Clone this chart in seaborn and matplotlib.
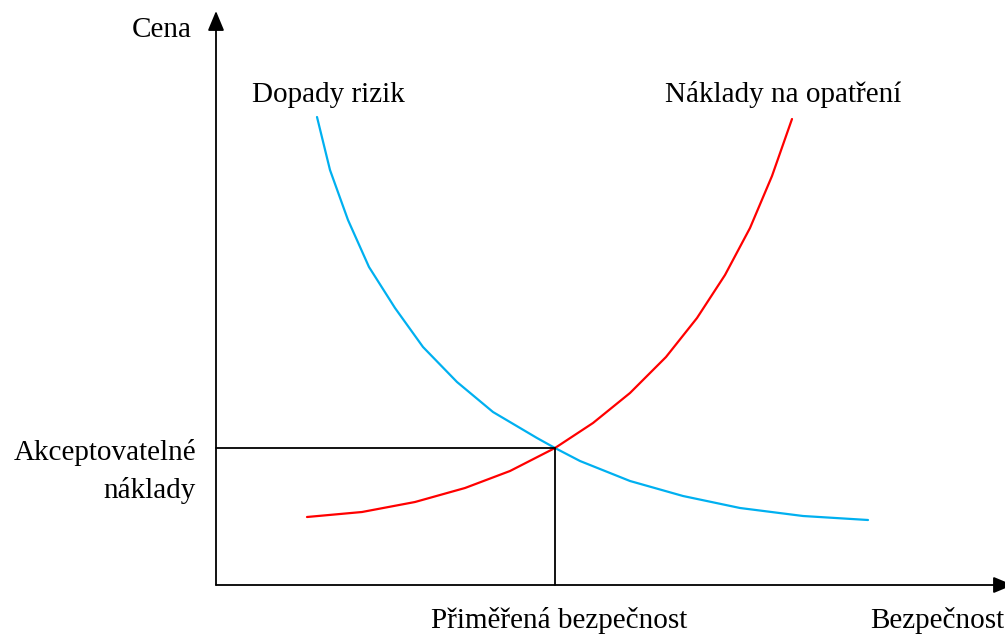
import matplotlib
matplotlib.use("Agg")
import matplotlib.pyplot as plt
import seaborn as sns
import pandas as pd

# Dopady rizik (modrá křivka)
risk_x = [101, 114, 132, 153, 179, 207, 241, 277, 321, 339, 364, 414, 467, 524, 587, 652]
risk_y = [468, 415, 365, 318, 277, 238, 203, 173, 147, 137, 124, 104, 89, 77, 69, 65]

# Náklady na opatření (červená křivka)
cost_x = [91, 146, 199, 249, 294, 339, 377, 414, 450, 481, 509, 534, 556, 576]
cost_y = [68, 73, 83, 97, 114, 137, 162, 192, 228, 267, 310, 357, 409, 466]

# Akceptovatelné náklady / přiměřená bezpečnost
opt_x = 339
opt_y = 137

sns.set_style("white")
plt.rcParams['font.family'] = ['Liberation Serif', 'DejaVu Serif']
plt.rcParams['text.color'] = 'black'

fig = plt.figure(figsize=(10.05, 6.36), dpi=100)
ax = fig.add_axes([0, 0, 1, 1])

df_risk = pd.DataFrame({'x': risk_x, 'y': risk_y})
df_cost = pd.DataFrame({'x': cost_x, 'y': cost_y})
sns.lineplot(data=df_risk, x='x', y='y', color='#00b0f0', lw=1.6, sort=False, ax=ax)
sns.lineplot(data=df_cost, x='x', y='y', color='#ff0000', lw=1.6, sort=False, ax=ax)

# pomocné čáry
ax.plot([0, opt_x], [opt_y, opt_y], color='black', lw=1.3)
ax.plot([opt_x, opt_x], [0, opt_y], color='black', lw=1.3)

# osy se šipkami
arrow = dict(arrowstyle='-|>,head_length=1.2,head_width=0.5', color='black', lw=1.3,
             shrinkA=0, shrinkB=0)
ax.annotate('', xy=(0, 574), xytext=(0, 0), arrowprops=arrow, annotation_clip=False)
ax.annotate('', xy=(797, 0), xytext=(0, 0), arrowprops=arrow, annotation_clip=False)

fs = 21
ax.text(-54, 555, 'Cena', fontsize=fs, ha='center', va='center')
ax.text(36, 490, 'Dopady rizik', fontsize=fs, ha='left', va='center')
ax.text(449, 490, 'Náklady na opatření', fontsize=fs, ha='left', va='center')
ax.text(-20, 132, 'Akceptovatelné', fontsize=fs, ha='right', va='center')
ax.text(-20, 95, 'náklady', fontsize=fs, ha='right', va='center')
ax.text(343, -36, 'Přiměřená bezpečnost', fontsize=fs, ha='center', va='center')
ax.text(654, -36, 'Bezpečnost', fontsize=fs, ha='left', va='center')

ax.set_xlim(-216, 789)
ax.set_ylim(-51, 585)
ax.set_xlabel('')
ax.set_ylabel('')
ax.set_xticks([])
ax.set_yticks([])
for s in ax.spines.values():
    s.set_visible(False)

fig.savefig('out.png', dpi=100)
